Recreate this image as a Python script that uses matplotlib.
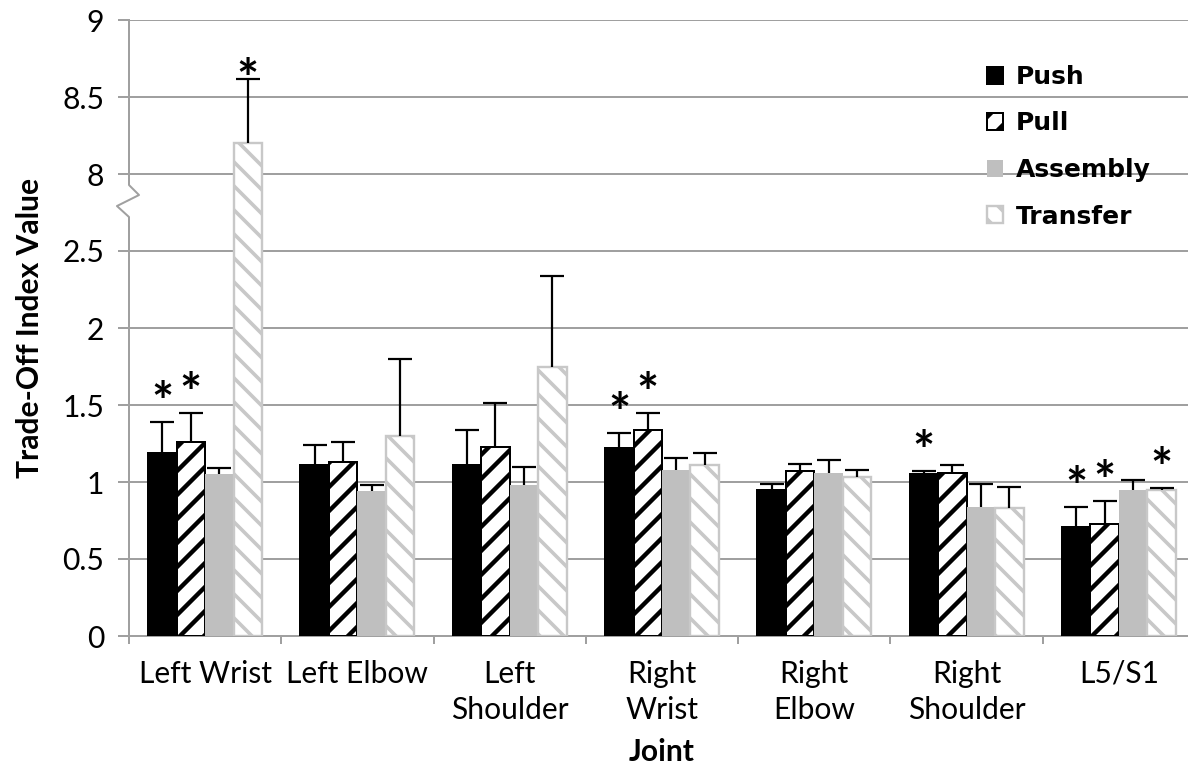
import matplotlib
matplotlib.use("Agg")
import matplotlib.pyplot as plt
import numpy as np

joints = ["Left Wrist", "Left Elbow", "Left\nShoulder", "Right\nWrist",
          "Right\nElbow", "Right\nShoulder", "L5/S1"]
tasks = ["Push", "Pull", "Assembly", "Transfer"]

push = [1.19, 1.11, 1.11, 1.22, 0.95, 1.05, 0.71]
push_err = [0.20, 0.13, 0.23, 0.10, 0.035, 0.02, 0.13]
pull = [1.26, 1.13, 1.23, 1.34, 1.07, 1.06, 0.73]
pull_err = [0.185, 0.13, 0.28, 0.105, 0.045, 0.05, 0.145]
assembly = [1.05, 0.94, 0.98, 1.08, 1.06, 0.84, 0.95]
assembly_err = [0.04, 0.04, 0.115, 0.075, 0.085, 0.145, 0.065]
transfer = [8.20, 1.30, 1.75, 1.11, 1.03, 0.83, 0.95]
transfer_err = [0.42, 0.50, 0.59, 0.08, 0.045, 0.14, 0.01]

# (joint, task) pairs flagged as significant
significant = [(0, 0), (0, 1), (0, 3), (3, 0), (3, 1), (5, 0), (6, 0), (6, 1), (6, 3)]

y_ticks = [0, 0.5, 1, 1.5, 2, 2.5, 8, 8.5, 9]
y_ticklabels = ["0", "0.5", "1", "1.5", "2", "2.5", "8", "8.5", "9"]

# broken y axis: 2.5 .. 8 squeezed into half a unit
LOW_TOP, HIGH_BOTTOM, GAP = 2.5, 8.0, 0.5
SKIP = HIGH_BOTTOM - LOW_TOP


def fwd(v):
    v = np.asarray(v, dtype=float)
    return np.where(v <= LOW_TOP, v,
                    np.where(v >= HIGH_BOTTOM, v - SKIP + GAP,
                             LOW_TOP + (v - LOW_TOP) * GAP / SKIP))


def inv(t):
    t = np.asarray(t, dtype=float)
    return np.where(t <= LOW_TOP, t,
                    np.where(t >= LOW_TOP + GAP, t + SKIP - GAP,
                             LOW_TOP + (t - LOW_TOP) * SKIP / GAP))


GRID = "#A0A0A0"
plt.rcParams["font.family"] = "Lato"
plt.rcParams["hatch.linewidth"] = 2.2

fig = plt.figure(figsize=(1188 / 144, 767 / 144), dpi=144)
ax = fig.add_axes([129 / 1188, 131 / 767, 1066 / 1188, 616 / 767])
ax.set_yscale("function", functions=(fwd, inv))

styles = [
    dict(color="black", edgecolor="black"),
    dict(facecolor="white", edgecolor="black", hatch="//", linewidth=1.0),
    dict(color="#BFBFBF", edgecolor="none"),
    dict(facecolor="white", edgecolor="#C8C8C8", hatch="\\\\", linewidth=1.2),
]
hatch_lw = [None, 2.2, None, 1.8]
series = [(push, push_err), (pull, pull_err), (assembly, assembly_err), (transfer, transfer_err)]

x = np.arange(len(joints))
w = 0.187
handles = []
for k, ((vals, errs), st) in enumerate(zip(series, styles)):
    xpos = x + (k - 1.5) * w
    bars = ax.bar(xpos, vals, w, zorder=3, label=tasks[k], **st)
    if hatch_lw[k]:
        for p in bars:
            if hasattr(p, "set_hatch_linewidth"):
                p.set_hatch_linewidth(hatch_lw[k])
    handles.append(bars)
    eb = ax.errorbar(xpos, vals, yerr=[np.zeros(len(vals)), errs], fmt="none",
                     ecolor="black", elinewidth=1.1, capsize=6, capthick=1.1, zorder=4)
    eb[1][0].set_visible(False)

for j, k in significant:
    vals, errs = series[k]
    top = vals[j] + errs[j]
    off = 1 if top < HIGH_BOTTOM else -9
    ax.annotate("*", (x[j] + (k - 1.5) * w, top), xytext=(0, off),
                textcoords="offset points", ha="center", va="baseline",
                fontsize=26, fontweight="bold", color="black", zorder=5)

ax.set_xlim(-0.5, len(joints) - 0.5)
ax.set_ylim(0, 9)
ax.set_yticks(y_ticks)
ax.set_yticklabels(y_ticklabels)
ax.set_xticks(x)
ax.set_xticklabels(joints, fontsize=15, linespacing=1.35)
ax.set_xticks(np.arange(-0.5, len(joints), 1), minor=True)
ax.tick_params(axis="x", which="major", length=0, pad=12)
ax.tick_params(axis="x", which="minor", length=4, width=1, color=GRID)
ax.tick_params(axis="y", length=5.5, width=1, color=GRID, labelsize=15, pad=7)

ax.yaxis.grid(True, color=GRID, linewidth=1.0, zorder=0)
ax.set_axisbelow(True)
for s in ("top", "right", "left"):
    ax.spines[s].set_visible(False)
ax.spines["bottom"].set_color(GRID)
ax.spines["bottom"].set_linewidth(1.0)

# left axis line with a zigzag where the scale is broken
zx = [0, 0, -0.0113, 0.0094, 0, 0]
zy = [0, 0.6802, 0.698, 0.7159, 0.7321, 1]
ax.plot(zx, zy, color=GRID, linewidth=1.0, transform=ax.transAxes, clip_on=False, zorder=2)

ax.set_ylabel("Trade-Off Index Value", fontsize=15, fontweight="bold", labelpad=9)
ax.set_xlabel("Joint", fontsize=15, fontweight="bold", labelpad=7)

leg = ax.legend(handles=handles, loc="upper left", bbox_to_anchor=(987 / 1188, 1 - 65 / 767),
                bbox_transform=fig.transFigure, frameon=False, borderpad=0, borderaxespad=0,
                handlelength=0.65, handleheight=0.65, handletextpad=0.5, labelspacing=0.9,
                prop={"family": "DejaVu Sans", "weight": "bold", "size": 12.5})
for p, lw in zip(leg.get_patches(), hatch_lw):
    if lw and hasattr(p, "set_hatch_linewidth"):
        p.set_hatch_linewidth(lw)

fig.savefig("out.png", dpi=144)
